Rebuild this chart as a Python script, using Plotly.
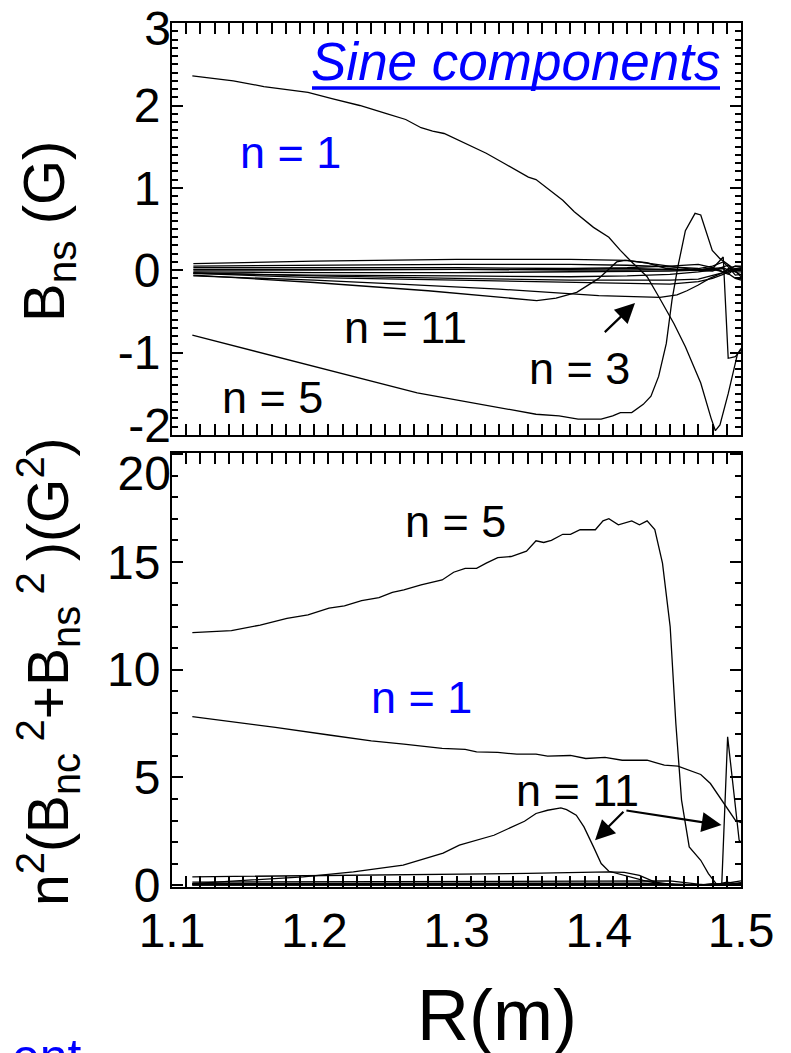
import plotly.graph_objects as go

# ---------------- Sine components B_ns (G), top panel ----------------
r_n1_top = [1.1143, 1.1431, 1.1646, 1.1956, 1.2131, 1.2320, 1.2508, 1.2643, 1.2751, 1.2832,
            1.2913, 1.3047, 1.3209, 1.3343, 1.3505, 1.3559, 1.3667, 1.3747, 1.3828, 1.3963,
            1.4071, 1.4152, 1.4232, 1.4340, 1.4421, 1.4529, 1.4609, 1.4717, 1.4790, 1.4820,
            1.4852, 1.4910, 1.4975, 1.5000]
b_n1_top = [2.36, 2.30, 2.23, 2.16, 2.08, 2.00, 1.90, 1.83, 1.73, 1.69,
            1.66, 1.55, 1.42, 1.29, 1.13, 1.10, 0.95, 0.85, 0.71, 0.52,
            0.40, 0.24, 0.10, -0.08, -0.32, -0.65, -0.93, -1.37, -1.80, -1.95,
            -1.88, -1.50, -1.02, -0.95]

r_n5_top = [1.1143, 1.1916, 1.2724, 1.3559, 1.3721, 1.3855, 1.4017, 1.4098, 1.4152, 1.4232,
            1.4313, 1.4367, 1.4421, 1.4475, 1.4515, 1.4556, 1.4609, 1.4677, 1.4717, 1.4798,
            1.4852, 1.4933, 1.5000]
b_n5_top = [-0.79, -1.13, -1.49, -1.75, -1.77, -1.81, -1.81, -1.77, -1.73, -1.73,
            -1.63, -1.53, -1.29, -0.89, -0.36, 0.04, 0.48, 0.69, 0.67, 0.24,
            0.14, 0.04, -0.08]

r_n3_top = [1.1150, 1.2000, 1.2600, 1.3300, 1.4000, 1.4300, 1.4430, 1.4550, 1.4620, 1.4700,
            1.4780, 1.4860, 1.4920, 1.5000]
b_n3_top = [-0.07, -0.12, -0.17, -0.23, -0.31, -0.33, -0.33, -0.30, -0.25, -0.18,
            -0.10, -0.04, 0.00, 0.02]

r_n11_top = [1.1150, 1.2000, 1.2800, 1.3400, 1.3564, 1.3700, 1.3845, 1.4000, 1.4126, 1.4185,
             1.4337, 1.4477, 1.4650, 1.4800, 1.4900, 1.5000]
b_n11_top = [-0.06, -0.15, -0.25, -0.34, -0.37, -0.34, -0.27, -0.10, 0.10, 0.12,
             0.09, 0.02, 0.00, 0.01, -0.03, 0.02]

# remaining harmonics of the sine set (small amplitude)
r_small_top = [1.1150, 1.2000, 1.3000, 1.3800, 1.4200, 1.4500, 1.4700, 1.4800, 1.4875, 1.4910, 1.4960, 1.5000]
b_small_top = {
    "n2":  [0.00, 0.00, 0.01, 0.01, 0.02, 0.01, 0.00, 0.02, 0.16, -1.07, -1.05, -0.97],
    "n4":  [0.08, 0.11, 0.13, 0.13, 0.12, 0.05, 0.00, 0.02, 0.03, 0.00, -0.02, -0.02],
    "n6":  [0.05, 0.06, 0.07, 0.07, 0.06, 0.04, 0.02, 0.05, 0.10, 0.04, -0.06, -0.05],
    "n7":  [0.03, 0.03, 0.03, 0.02, 0.03, 0.05, 0.07, 0.03, -0.03, -0.05, 0.02, 0.03],
    "n8":  [0.01, 0.01, 0.01, 0.00, 0.00, 0.01, 0.00, -0.01, 0.04, 0.06, -0.02, -0.06],
    "n9":  [-0.02, -0.03, -0.03, -0.02, -0.02, -0.01, 0.00, 0.03, -0.02, 0.01, 0.05, 0.04],
    "n10": [-0.04, -0.06, -0.07, -0.08, -0.07, -0.05, -0.02, 0.00, 0.02, -0.04, -0.10, -0.12],
    "n12": [-0.04, -0.09, -0.12, -0.15, -0.16, -0.17, -0.14, -0.10, -0.05, -0.02, 0.02, 0.00],
    "n13": [-0.03, -0.07, -0.10, -0.12, -0.12, -0.12, -0.11, -0.06, -0.03, 0.02, 0.05, 0.05],
}

# ---------------- n^2 (B_nc^2 + B_ns^2) (G^2), bottom panel ----------------
r_n5_bot = [1.1143, 1.1418, 1.1620, 1.1808, 1.1956, 1.2104, 1.2212, 1.2333, 1.2455, 1.2549,
            1.2630, 1.2751, 1.2899, 1.2980, 1.3061, 1.3141, 1.3209, 1.3290, 1.3384, 1.3492,
            1.3559, 1.3613, 1.3667, 1.3747, 1.3801, 1.3869, 1.3976, 1.4030, 1.4071, 1.4138,
            1.4232, 1.4286, 1.4340, 1.4394, 1.4448, 1.4502, 1.4542, 1.4582, 1.4636, 1.4717,
            1.4771, 1.4825, 1.4879, 1.5000]
v_n5_bot = [11.72, 11.81, 12.07, 12.38, 12.54, 12.85, 12.96, 13.20, 13.34, 13.59,
            13.70, 13.93, 14.16, 14.52, 14.70, 14.70, 14.94, 15.20, 15.25, 15.50,
            15.98, 15.90, 16.00, 16.28, 16.28, 16.49, 16.49, 16.90, 17.00, 16.72,
            16.90, 16.72, 16.90, 16.50, 14.94, 12.00, 7.50, 3.95, 1.78, 1.16,
            0.54, 0.08, 0.00, 0.05]

r_n1_bot = [1.1143, 1.1418, 1.1727, 1.2104, 1.2401, 1.2630, 1.2899, 1.3061, 1.3141, 1.3290,
            1.3424, 1.3559, 1.3640, 1.3801, 1.3909, 1.4044, 1.4165, 1.4340, 1.4461, 1.4556,
            1.4663, 1.4717, 1.4785, 1.4879, 1.4960, 1.5000]
v_n1_bot = [7.82, 7.59, 7.32, 6.97, 6.70, 6.55, 6.35, 6.30, 6.19, 6.16,
            6.08, 6.08, 5.99, 6.02, 5.88, 5.93, 5.80, 5.80, 5.57, 5.53,
            5.26, 5.14, 4.72, 3.79, 3.02, 2.90]

r_n11_bot = [1.1143, 1.1923, 1.2275, 1.2625, 1.2906, 1.3020, 1.3263, 1.3478, 1.3559, 1.3640,
             1.3734, 1.3774, 1.3842, 1.3896, 1.3963, 1.4017, 1.4071, 1.4178, 1.4313, 1.4421,
             1.4610, 1.4825, 1.4865, 1.4906, 1.4987, 1.5000]
v_n11_bot = [0.08, 0.39, 0.62, 0.93, 1.49, 1.86, 2.32, 2.97, 3.33, 3.48,
             3.59, 3.51, 3.25, 2.71, 1.78, 1.01, 0.65, 0.46, 0.23, 0.08,
             0.00, 0.00, 0.08, 6.89, 2.09, 2.00]

r_n3_bot = [1.1143, 1.2500, 1.3500, 1.4070, 1.4180, 1.4286, 1.4396, 1.4500, 1.4600, 1.5000]
v_n3_bot = [0.39, 0.47, 0.55, 0.62, 0.60, 0.46, 0.15, 0.05, 0.00, 0.00]

r_small_bot = [1.1143, 1.2000, 1.3000, 1.4000, 1.4300, 1.4500, 1.4700, 1.4800, 1.4900, 1.5000]
v_small_bot = {
    "n2":  [0.15, 0.16, 0.18, 0.21, 0.22, 0.20, 0.05, 0.00, 0.05, 0.10],
    "n4":  [0.08, 0.08, 0.09, 0.10, 0.10, 0.06, 0.02, 0.04, 0.10, 0.20],
    "n6":  [0.05, 0.05, 0.05, 0.06, 0.06, 0.04, 0.01, 0.08, 0.02, 0.12],
    "n7":  [0.03, 0.03, 0.03, 0.04, 0.04, 0.03, 0.02, 0.00, 0.15, 0.05],
    "n8":  [0.02, 0.02, 0.02, 0.02, 0.03, 0.02, 0.01, 0.05, 0.00, 0.08],
    "n9":  [0.01, 0.01, 0.01, 0.01, 0.01, 0.01, 0.00, 0.02, 0.06, 0.03],
}

# tick labels
x_ticks = [1.1, 1.2, 1.3, 1.4, 1.5]
x_ticktext = ["1.1", "1.2", "1.3", "1.4", "1.5"]
y_top_ticks = [-1, 0, 1, 2]
y_top_ticktext = ["-1", "0", "1", "2"]
y_top_low_tick, y_top_low_text = [-2], ["-2"]
y_top_high_tick, y_top_high_text = [3], ["3"]
y_bot_ticks = [0, 5, 10, 15]
y_bot_ticktext = ["0", "5", "10", "15"]
y_bot_high_tick, y_bot_high_text = [20], ["20"]

LINE = dict(color="black", width=1.3)
FONT = "Liberation Sans"
BLUE = "#0000ff"

fig = go.Figure()


def add(r, v, xa, ya):
    fig.add_trace(go.Scatter(x=r, y=v, mode="lines", line=LINE, xaxis=xa, yaxis=ya,
                             showlegend=False, hoverinfo="skip"))


# top panel curves
for key, vals in b_small_top.items():
    add(r_small_top, vals, "x", "y")
add(r_n11_top, b_n11_top, "x", "y")
add(r_n3_top, b_n3_top, "x", "y")
add(r_n5_top, b_n5_top, "x", "y")
add(r_n1_top, b_n1_top, "x", "y")

# bottom panel curves
for key, vals in v_small_bot.items():
    add(r_small_bot, vals, "x2", "y2")
add(r_n3_bot, v_n3_bot, "x2", "y2")
add(r_n11_bot, v_n11_bot, "x2", "y2")
add(r_n1_bot, v_n1_bot, "x2", "y2")
add(r_n5_bot, v_n5_bot, "x2", "y2")

W, H = 791, 1053
x_dom = [172 / W, 741 / W]
top_dom = [1 - 435 / H, 1 - 23 / H]
bot_dom = [1 - 887 / H, 1 - 453 / H]
top_range = [-2.002, 3.002]
bot_range = [-0.08, 20.05]

tickfont = dict(family=FONT, size=48, color="black")
axis_common = dict(
    showline=True, linecolor="black", linewidth=2, mirror="allticks",
    ticks="inside", ticklen=11, tickwidth=2, tickcolor="black",
    showgrid=False, zeroline=False, automargin=False,
    tickfont=tickfont, ticklabeloverflow="allow",
)
# label-only axes for the end ticks whose labels sit inside the panel edge
edge_axis = dict(showline=False, ticks="", showgrid=False, zeroline=False, automargin=False,
                 tickfont=tickfont, tickmode="array", ticklabeloverflow="allow")

fig.update_layout(
    width=W, height=H,
    margin=dict(l=0, r=0, t=0, b=0),
    paper_bgcolor="white", plot_bgcolor="white",
    font=dict(family=FONT, color="black"),
    xaxis=dict(axis_common, domain=x_dom, anchor="y", range=[1.1, 1.5],
               tickmode="array", tickvals=x_ticks, showticklabels=False,
               minor=dict(ticks="inside", ticklen=6, tickwidth=1.5, tickcolor="black", dtick=0.01)),
    yaxis=dict(axis_common, domain=top_dom, anchor="x", range=top_range,
               tickmode="array", tickvals=y_top_ticks + y_top_low_tick + y_top_high_tick,
               ticktext=y_top_ticktext + ["", ""],
               minor=dict(ticks="inside", ticklen=6, tickwidth=1.5, tickcolor="black", dtick=0.1)),
    yaxis3=dict(edge_axis, overlaying="y", anchor="x", range=top_range,
                tickvals=y_top_low_tick, ticktext=y_top_low_text, ticklabelshift=-10),
    yaxis5=dict(edge_axis, overlaying="y", anchor="x", range=top_range,
                tickvals=y_top_high_tick, ticktext=y_top_high_text, ticklabelshift=5),
    xaxis2=dict(axis_common, domain=x_dom, anchor="y2", range=[1.1, 1.5],
                tickmode="array", tickvals=x_ticks, ticktext=x_ticktext,
                minor=dict(ticks="inside", ticklen=6, tickwidth=1.5, tickcolor="black", dtick=0.01)),
    yaxis2=dict(axis_common, domain=bot_dom, anchor="x2", range=bot_range,
                tickmode="array", tickvals=y_bot_ticks + y_bot_high_tick,
                ticktext=y_bot_ticktext + [""],
                minor=dict(ticks="inside", ticklen=6, tickwidth=1.5, tickcolor="black", dtick=1)),
    yaxis4=dict(edge_axis, overlaying="y2", anchor="x2", range=bot_range,
                tickvals=y_bot_high_tick, ticktext=y_bot_high_text, ticklabelshift=19),
)

# invisible carriers so the label-only axes are drawn
for xa, ya in [("x", "y3"), ("x", "y5"), ("x2", "y4")]:
    fig.add_trace(go.Scatter(x=[None], y=[None], xaxis=xa, yaxis=ya, showlegend=False, hoverinfo="skip"))

ann = []
lab = dict(family=FONT, size=45)
arrow = dict(text="", showarrow=True, arrowhead=2, arrowsize=1.8, arrowwidth=2.2, arrowcolor="black")
# top panel labels
ann.append(dict(x=1.183, y=1.43, xref="x", yref="y", text="n = 1", showarrow=False,
                font=dict(lab, color=BLUE)))
ann.append(dict(x=1.2638, y=-0.70, xref="x", yref="y", text="n = 11", showarrow=False,
                font=dict(lab, color="black")))
ann.append(dict(x=1.3868, y=-1.19, xref="x", yref="y", text="n = 3", showarrow=False,
                font=dict(lab, color="black")))
ann.append(dict(x=1.1703, y=-1.55, xref="x", yref="y", text="n = 5", showarrow=False,
                font=dict(lab, color="black")))
ann.append(dict(arrow, x=1.4255, y=-0.40, ax=1.4032, ay=-0.77, xref="x", yref="y",
                axref="x", ayref="y"))
# bottom panel labels
ann.append(dict(x=1.299, y=16.86, xref="x2", yref="y2", text="n = 5", showarrow=False,
                font=dict(lab, color="black")))
ann.append(dict(x=1.2757, y=8.69, xref="x2", yref="y2", text="n = 1", showarrow=False,
                font=dict(lab, color=BLUE)))
ann.append(dict(x=1.3854, y=4.41, xref="x2", yref="y2", text="n = 11", showarrow=False,
                font=dict(lab, color="black")))
for hx, hy in [(1.3974, 2.09), (1.4863, 2.79)]:
    ann.append(dict(arrow, x=hx, y=hy, ax=1.4184, ay=3.48, xref="x2", yref="y2",
                    axref="x2", ayref="y2"))

# panel title and axis titles
ann.append(dict(x=516 / W, y=1 - 62 / H, xref="paper", yref="paper", text="<i>Sine components</i>",
                showarrow=False, font=dict(family=FONT, size=53, color=BLUE),
                xanchor="center", yanchor="middle"))
ann.append(dict(x=48 / W, y=1 - 232 / H, xref="paper", yref="paper", text="B<sub>ns</sub> (G)",
                showarrow=False, textangle=-90, font=dict(family=FONT, size=58, color="black"),
                xanchor="center", yanchor="middle"))
ann.append(dict(x=48 / W, y=1 - 672 / H, xref="paper", yref="paper",
                text="n<sup>2</sup>(B<sub>nc</sub>\u2009<sup>2</sup>+B<sub>ns</sub>\u2009<sup>2</sup>\u2009)(G<sup>2</sup>)",
                showarrow=False, textangle=-90, font=dict(family=FONT, size=57, color="black"),
                xanchor="center", yanchor="middle"))
ann.append(dict(x=497 / W, y=1 - 1015 / H, xref="paper", yref="paper", text="R(m)",
                showarrow=False, font=dict(family=FONT, size=72, color="black"),
                xanchor="center", yanchor="middle"))
ann.append(dict(x=84 / W, y=1 - 1057 / H, xref="paper", yref="paper", text="ent",
                showarrow=False, font=dict(family=FONT, size=50, color=BLUE),
                xanchor="right", yanchor="middle"))
fig.update_layout(annotations=ann)

fig.add_shape(type="line", xref="paper", yref="paper",
              x0=312 / W, x1=720 / W, y0=1 - 88 / H, y1=1 - 88 / H,
              line=dict(color=BLUE, width=3.5))

fig.write_html("out.html")
